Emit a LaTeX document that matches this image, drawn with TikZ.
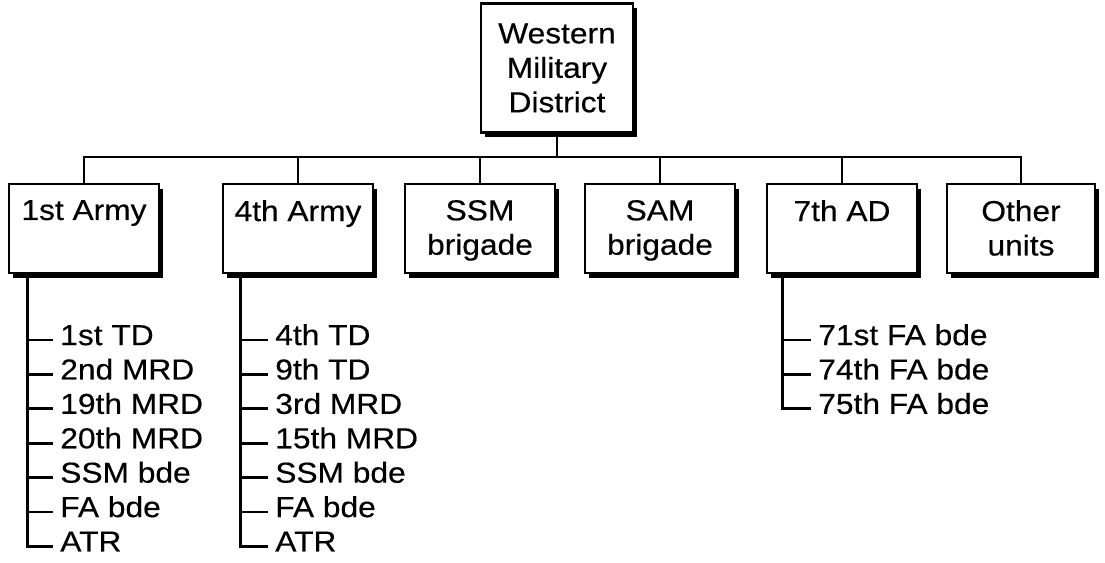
\documentclass[tikz,border=0pt]{standalone}
\usepackage{fontspec}
\setmainfont{Liberation Sans}[FakeStretch=1.1,FakeBold=0.4]
\usetikzlibrary{shadows,positioning}
\tikzset{
unitbox/.style={
  draw, line width=1.6pt, fill=white,
  drop shadow={shadow xshift=0.11cm, shadow yshift=-0.11cm, fill=black, opacity=1},
  inner sep=0pt, anchor=north,
  minimum width=3.75cm, minimum height=2.225cm
  },
subunit/.style={
  anchor=west, inner xsep=5pt, inner ysep=0pt,
  text height=0.72em, text depth=0pt
  },
orgline/.style={line width=2pt}
}
\newcommand{\boxtext}[1]{\parbox[c][2.225cm][t]{3.7cm}{\vspace*{0.4cm}\centering #1}}

\begin{document}
\begin{tikzpicture}[x=0.025cm,y=-0.025cm,font=\fontsize{20.5}{24.5}\selectfont]
\useasboundingbox (0,0) rectangle (1105,562);
% the boxes
\node[unitbox, anchor=center, align=center, minimum width=3.8cm, minimum height=3.225cm]
  (wmd) at (557,68) {Western\\Military\\District};
\node[unitbox] (a1) at (84,183) {\boxtext{1st Army}};
\node[unitbox] (a4) at (298,183) {\boxtext{4th Army}};
\node[unitbox] (ssm) at (480,183) {\boxtext{SSM\\brigade}};
\node[unitbox] (sam) at (660,183) {\boxtext{SAM\\brigade}};
\node[unitbox] (ad7) at (842,183) {\boxtext{7th AD}};
\node[unitbox, minimum width=3.6cm] (oth) at (1021,183) {\boxtext{Other\\units}};
\coordinate (bus) at (557,157);

% the subunits
\foreach \Txt [count=\i] in {1st TD,2nd MRD,19th MRD,20th MRD,SSM bde,FA bde,ATR}
  \node[subunit] (a1-\i) at (53,{340+34.4*(\i-1)}) {\Txt};
\foreach \Txt [count=\i] in {4th TD,9th TD,3rd MRD,15th MRD,SSM bde,FA bde,ATR}
  \node[subunit] (a4-\i) at (268,{340+34.4*(\i-1)}) {\Txt};
\foreach \Txt [count=\i] in {71st FA bde,74th FA bde,75th FA bde}
  \node[subunit] (ad7-\i) at (811,{340+34.4*(\i-1)}) {\Txt};

%the lines
\draw[orgline] (wmd.south) -- (wmd.south |- bus);
\draw[orgline] (a1.north) |- (bus -| oth.north) -- (oth.north);
\foreach \Box in {a4,ssm,sam,ad7}
  \draw[orgline] (\Box.north) -- (\Box.north |- bus);
\foreach \i in {1,...,7}
  \draw[orgline] ([xshift=0.5cm]a1.south west) |- (a1-\i.west);
\foreach \i in {1,...,7}
  \draw[orgline] ([xshift=0.475cm]a4.south west) |- (a4-\i.west);
\foreach \i in {1,...,3}
  \draw[orgline] ([xshift=0.425cm]ad7.south west) |- (ad7-\i.west);
\end{tikzpicture}
\end{document}
